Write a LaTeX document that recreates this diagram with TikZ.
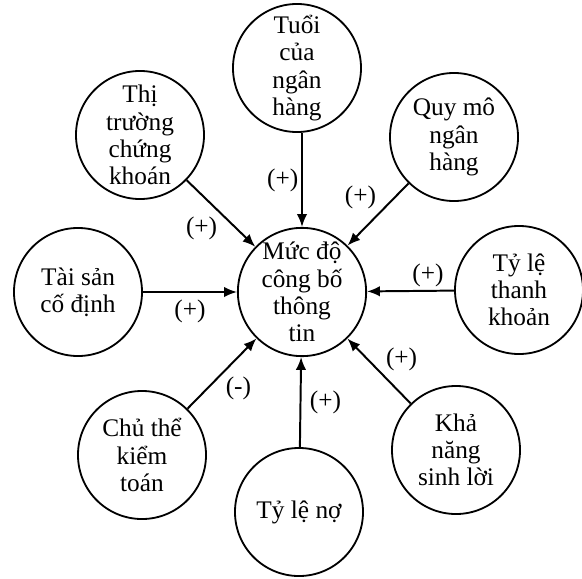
\documentclass[tikz,border=0pt]{standalone}
\usepackage{fontspec}
\setmainfont{Liberation Serif}
\usetikzlibrary{arrows.meta}

\begin{document}
\begin{tikzpicture}[
  x=0.025cm, y=-0.025cm,
  >={Latex[length=3.2mm,width=2.6mm]},
  factor/.style = {
    draw, circle, line width=1.3pt,
    align=center,
    inner sep=0pt,
    minimum size=\d,
    font=\fontsize{18}{19.4}\selectfont
  },
  link/.style  = {->, line width=1.4pt},
  sign/.style  = {font=\fontsize{18}{19.4}\selectfont, inner sep=2pt}
]

% ---- constants ----
\def\d{3.2cm}        % circle diameter

\useasboundingbox (0,0) rectangle (582,578);

% ---- nodes (centre + eight factors) ----
\node[factor] (main)   at (302,292) {Mức độ\\công bố\\thông\\tin};

\node[factor] (age)    at (297,68)  {Tuổi\\của\\ngân\\hàng};
\node[factor] (stock)  at (140,135) {Thị\\trường\\chứng\\khoán};
\node[factor] (size)   at (454,137) {Quy mô\\ngân\\hàng};
\node[factor] (fixed)  at (78,292)  {Tài sản\\cố định};
\node[factor] (liq)    at (519,290) {Tỷ lệ\\thanh\\khoản};
\node[factor] (audit)  at (142,455) {Chủ thể\\kiểm\\toán};
\node[factor] (debt)   at (299,512) {Tỷ lệ nợ};
\node[factor] (profit) at (456,450) {Khả\\năng\\sinh lời};

% ---- arrows (all into the centre) ----
\draw[link] (age.south -| main) -- node[sign,midway,left] {(+)} (main);

\draw[link] (stock) -- node[sign,midway,below left=0pt] {(+)} (main);

\draw[link] (size) -- node[sign,pos=0.47,above left=0pt] {(+)} (main);

\draw[link] (fixed) -- node[sign,midway,below=3pt] {(+)} (main);

\draw[link] (liq) -- node[sign,pos=0.3,above] {(+)} (main);

\draw[link] (profit) -- node[sign,pos=0.45,above right=0pt] {(+)} (main);

\draw[link] (debt) -- node[sign,midway,right=4pt] {(+)} (main);

\draw[link] (audit) -- node[sign,midway,below right=0pt] {(-)} (main);

\end{tikzpicture}
\end{document}
